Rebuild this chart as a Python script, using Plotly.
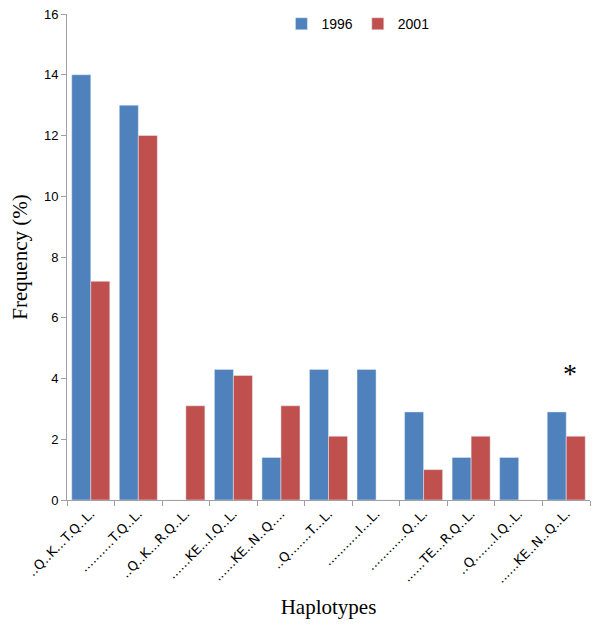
import plotly.graph_objects as go

haplotypes = [
    "..Q..K...T.Q..L.",
    "..........T.Q..L.",
    "..Q..K...R.Q..L.",
    "......KE...I.Q..L.",
    "......KE..N..Q....",
    "..Q.......T...L.",
    "...........I...L.",
    "............Q..L.",
    "......TE...R.Q..L.",
    "..Q.......I.Q..L.",
    "......KE..N..Q..L.",
]
freq_1996 = [14, 13, 0, 4.3, 1.4, 4.3, 4.3, 2.9, 1.4, 1.4, 2.9]
freq_2001 = [7.2, 12, 3.1, 4.1, 3.1, 2.1, 0, 1.0, 2.1, 0, 2.1]
star_category = haplotypes[10]
star_y = 3.6

fig = go.Figure()
fig.add_bar(name="1996", x=haplotypes, y=freq_1996, marker_color="#4F81BD")
fig.add_bar(name="2001", x=haplotypes, y=freq_2001, marker_color="#C0504D")

fig.add_annotation(x=star_category, y=star_y, text="*", showarrow=False,
                   font=dict(family="Liberation Serif", size=28, color="black"),
                   yanchor="bottom", xshift=4)

fig.update_layout(
    width=600, height=629,
    margin=dict(l=59, r=18, t=6, b=137, autoexpand=False),
    paper_bgcolor="white", plot_bgcolor="white",
    barmode="group", bargap=0.2, bargroupgap=0,
    font=dict(family="Liberation Sans", size=12, color="black"),
    legend=dict(orientation="h", x=0.41, y=1.012, xanchor="left", yanchor="top",
                font=dict(family="Liberation Sans", size=14), itemwidth=30,
                bgcolor="rgba(0,0,0,0)"),
    xaxis=dict(
        type="category", tickangle=-45, showgrid=False, automargin=False,
        showline=True, linecolor="#A0A0A0", linewidth=1,
        ticks="outside", tickson="boundaries", ticklen=5, tickcolor="#A0A0A0",
        tickfont=dict(family="DejaVu Sans", size=13),
        title=dict(text="Haplotypes", font=dict(family="Liberation Serif", size=21), standoff=14),
    ),
    yaxis=dict(
        range=[0, 16], dtick=2, showgrid=False, zeroline=False, automargin=False,
        showline=True, linecolor="#A0A0A0", linewidth=1,
        ticks="outside", ticklen=5, tickcolor="#A0A0A0", ticklabeloverflow="allow",
        tickfont=dict(family="Liberation Sans", size=13),
        title=dict(text="Frequency (%)", font=dict(family="Liberation Serif", size=21), standoff=16),
    ),
)

fig.write_html("out.html")
